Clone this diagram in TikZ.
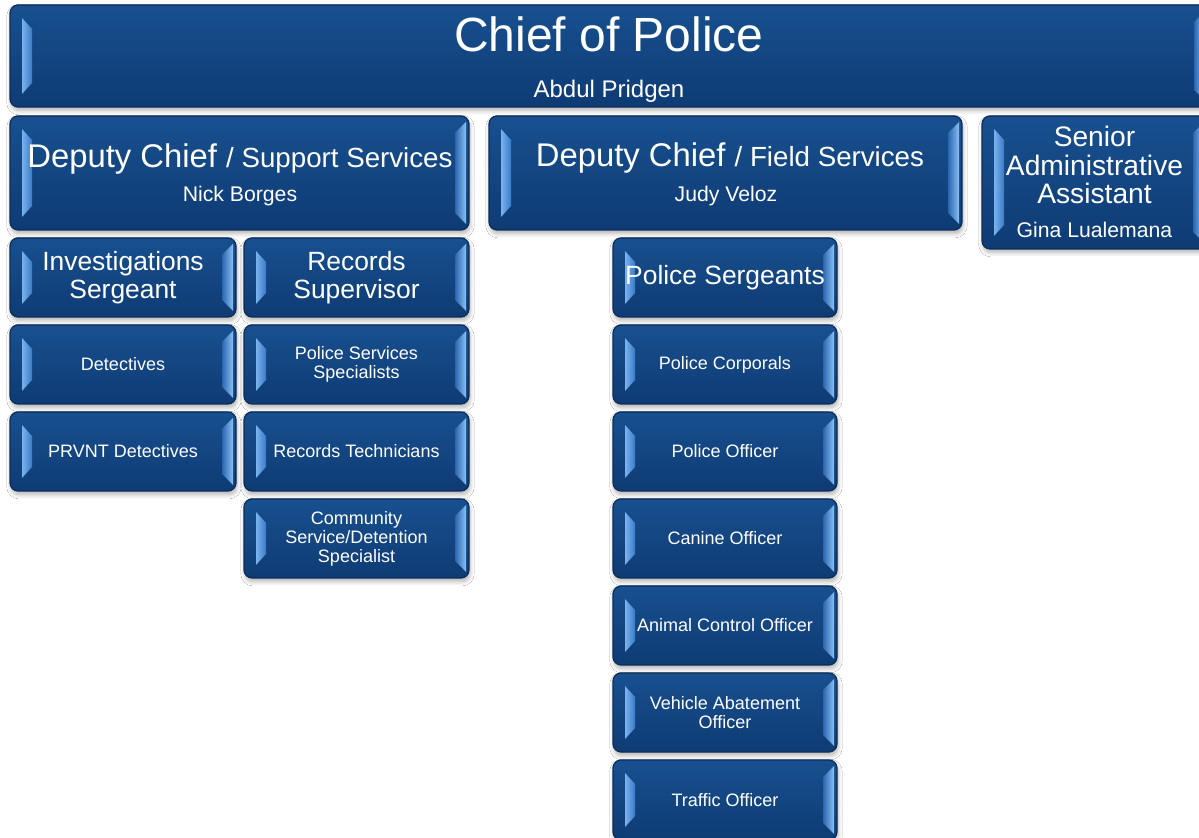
\documentclass[tikz,border=0pt]{standalone}
\usepackage{fontspec}
\setmainfont{Liberation Sans}
\usetikzlibrary{calc,shadows.blur}
\definecolor{boxtop}{HTML}{18508F}
\definecolor{boxbot}{HTML}{0E3B74}
\definecolor{boxline}{HTML}{0B2D5A}
\definecolor{bevL}{HTML}{7AB2EE}
\definecolor{bevLd}{HTML}{3A7AC6}
\definecolor{bevR}{HTML}{8CC0F4}
\definecolor{bevRd}{HTML}{2A66B0}
\tikzset{
  obox/.style={rectangle, rounded corners=4pt, draw=boxline, line width=0.6pt,
    top color=boxtop, bottom color=boxbot, text=white, align=center, inner sep=0pt,
    blur shadow={shadow xshift=0.5pt, shadow yshift=-1.8pt, shadow blur steps=6, shadow opacity=30},
    path picture={
      \coordinate (pnw) at (path picture bounding box.north west);
      \coordinate (pse) at (path picture bounding box.south east);
      \shade[sharp corners, left color=bevL, right color=bevLd]
        ($(pnw)+(6pt,-6.5pt)$) -- ($(pnw|-pse)+(6pt,6.5pt)$) --
        ($(pnw|-pse)+(11pt,12pt)$) -- ($(pnw)+(11pt,-12pt)$) -- cycle;
      \shade[sharp corners, left color=bevRd, right color=bevR]
        ($(pse|-pnw)+(-1.5pt,-3pt)$) -- ($(pse)+(-1.5pt,3pt)$) --
        ($(pse)+(-7pt,8.5pt)$) -- ($(pse|-pnw)+(-7pt,-8.5pt)$) -- cycle;
    }},
  small/.style={font=\fontsize{9}{9.5}\selectfont},
  mid/.style={font=\fontsize{13.2}{14}\selectfont},
  plain/.style={},
  txt/.style={text=white, inner sep=0pt, anchor=base},
}
\newcommand\orgbox[7]{%
  \pgfmathsetmacro\bw{(#5-#3)*0.5}%
  \pgfmathsetmacro\bh{(#6-#4)*0.5}%
  \node[obox, #2, minimum width=\bw pt, minimum height=\bh pt] (#1) at ({(#3+#5)/2},{(#4+#6)/2}) {#7};}
\begin{document}
\begin{tikzpicture}[x=0.5pt,y=-0.5pt]
\useasboundingbox (0,0) rectangle (1199,838);
\fill[white] (0,0) rectangle (1199,838);
\clip (0,0) rectangle (1199,838);
% top level
\orgbox{chief}{plain}{10}{5}{1208}{107}{}
\orgbox{dsup}{plain}{10}{116}{469}{230}{}
\orgbox{dfld}{plain}{489}{116}{962}{230}{}
\orgbox{senior}{plain}{982}{116}{1207}{249}{}
% support services
\orgbox{invs}{mid}{10}{238}{236}{317}{Investigations\\Sergeant}
\orgbox{recsup}{mid}{244}{238}{469}{317}{Records\\Supervisor}
\orgbox{det}{small}{10}{325}{236}{404}{Detectives}
\orgbox{pss}{small}{244}{325}{469}{404}{Police Services\\Specialists}
\orgbox{prvnt}{small}{10}{412}{236}{491}{PRVNT Detectives}
\orgbox{rtech}{small}{244}{412}{469}{491}{Records Technicians}
\orgbox{comm}{small}{244}{499}{469}{578}{Community\\Service/Detention\\Specialist}
% field services
\orgbox{psgt}{mid}{613}{238}{837}{317}{Police Sergeants}
\orgbox{pcorp}{small}{613}{325}{837}{404}{Police Corporals}
\orgbox{pofc}{small}{613}{412}{837}{491}{Police Officer}
\orgbox{canine}{small}{613}{499}{837}{578}{Canine Officer}
\orgbox{animal}{small}{613}{586}{837}{665}{Animal Control Officer}
\orgbox{vehicle}{small}{613}{673}{837}{752}{Vehicle Abatement\\Officer}
\orgbox{traffic}{small}{613}{760}{837}{840}{Traffic Officer}
% texts of the top boxes
\node[txt, font=\fontsize{24}{28}\selectfont] (chiefT) at (609,52) {Chief of Police};
\node[txt, font=\fontsize{12}{14}\selectfont] (chiefN) at (609,98) {Abdul Pridgen};
\node[txt] (dsupT) at (240,168) {\fontsize{16.4}{20}\selectfont Deputy Chief \fontsize{13.85}{17}\selectfont/ Support Services};
\node[txt, font=\fontsize{10.6}{12}\selectfont] (dsupN) at (240,202) {Nick Borges};
\node[txt] (dfldT) at (730,167) {\fontsize{16.4}{20}\selectfont Deputy Chief \fontsize{13.85}{17}\selectfont/ Field Services};
\node[txt, font=\fontsize{10.6}{12}\selectfont] (dfldN) at (726,202) {Judy Veloz};
\node[txt, font=\fontsize{14.1}{16}\selectfont] (senT1) at (1094.5,147) {Senior};
\node[txt, font=\fontsize{14.1}{16}\selectfont] (senT2) at (1094.5,176) {Administrative};
\node[txt, font=\fontsize{14.1}{16}\selectfont] (senT3) at (1094.5,204) {Assistant};
\node[txt, font=\fontsize{10.6}{12}\selectfont] (senN) at (1094.5,238) {Gina Lualemana};
\end{tikzpicture}
\end{document}
